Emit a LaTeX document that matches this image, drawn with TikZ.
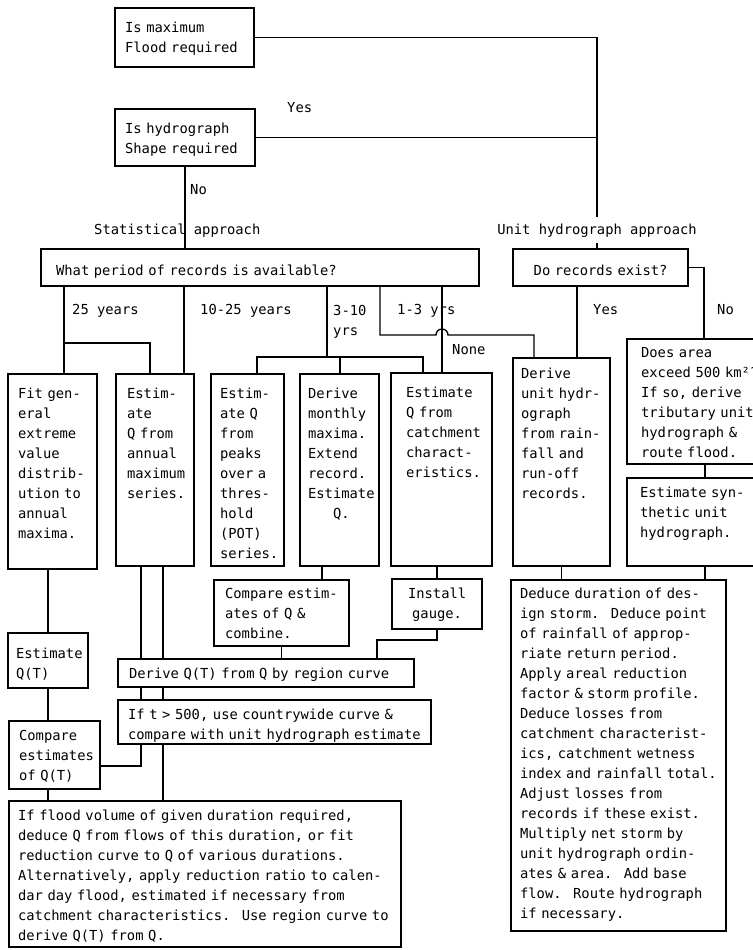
\documentclass[tikz,border=0pt]{standalone}
\usepackage{fontspec}
\setmainfont{DejaVu Sans Mono}

\begin{document}
\begin{tikzpicture}[x=1pt, y=-1pt, font=\fontsize{13.8}{20}\selectfont,
    box/.style={draw, line width=2.2pt, anchor=north west, inner xsep=10pt, inner ysep=0pt, align=left},
    link/.style={line width=1.3pt},
    lab/.style={inner sep=0pt, anchor=base west}]
    \useasboundingbox (0,0) rectangle (752,950);

      \node[box, text width=119pt, text height=24pt, text depth=35pt] (maxflood) at (114,7) {Is maximum\\Flood required};
      \node[box, text width=120pt, text height=24pt, text depth=33pt] (hydshape) at (114,108) {Is hydrograph\\Shape required};
      \node[box, inner xsep=15pt, text width=408pt, text height=26pt, text depth=11pt] (period) at (40,248) {What period of records is available?};
      \node[box, align=center, text width=155pt, text height=26pt, text depth=11pt] (exist) at (512,248) {Do records exist?};

      \node[box, text width=69pt, text height=24pt, text depth=171pt] (fitgev) at (7,373) {Fit gen-\\eral\\extreme\\value\\distrib-\\ution to\\annual\\maxima.};
      \node[box, inner xsep=11pt, text width=56pt, text height=24pt, text depth=168pt] (estannual) at (115,373) {Estim-\\ate\\Q from\\annual\\maximum\\series.};
      \node[box, inner xsep=9pt, text width=55pt, text height=24pt, text depth=168pt] (estpot) at (210,373) {Estim-\\ate Q\\from\\peaks\\over a\\thres-\\hold\\(POT)\\series.};
      \node[box, inner xsep=8pt, text width=63pt, text height=24pt, text depth=168pt] (monthly) at (299,373) {Derive\\monthly\\maxima.\\Extend\\record.\\Estimate\\\phantom{Est}Q.};
      \node[box, inner xsep=15pt, text width=71pt, text height=24pt, text depth=169pt] (catchq) at (390,372) {Estimate\\Q from\\catchment\\charact-\\eristics.};
      \node[box, inner xsep=8pt, text width=81pt, text height=20pt, text depth=188pt] (deriveuh) at (512,357) {Derive\\unit hydr-\\ograph\\from rain-\\fall and\\run-off\\records.};
      \node[box, inner xsep=14pt, text width=120pt, text height=18pt, text depth=107pt] (area) at (626,338) {Does area\\exceed 500 km²?\\If so, derive\\tributary unit\\hydrograph \&\\route flood.};
      \node[box, inner xsep=13pt, text width=108pt, text height=19pt, text depth=69pt] (synth) at (626,477) {Estimate syn-\\thetic unit\\hydrograph.};

      \node[box, inner xsep=11pt, text width=113pt, text height=18pt, text depth=48pt] (comparecomb) at (213,579) {Compare estim-\\ates of Q \&\\combine.};
      \node[box, align=center, text width=70pt, text height=19pt, text depth=31pt] (gauge) at (391,578) {Install\\gauge.};
      \node[box, inner xsep=8pt, text width=64pt, text height=25pt, text depth=30pt] (estqt) at (7,632) {Estimate\\Q(T)};
      \node[box, text width=71pt, text height=19pt, text depth=49pt] (compareqt) at (8,720) {Compare\\estimates\\of Q(T)};
      \node[box, inner xsep=11pt, text width=274pt, text height=19pt, text depth=9pt] (derivereg) at (117,658) {Derive Q(T) from Q by region curve};
      \node[box, text width=293pt, text height=19pt, text depth=25pt] (ift) at (117,699) {If t > 500, use countrywide curve \&\\compare with unit hydrograph estimate};
      \node[box, inner xsep=9pt, text width=374pt, text height=19pt, text depth=127pt] (final) at (8,800) {If flood volume of given duration required,\\deduce Q from flows of this duration, or fit\\reduction curve to Q of various durations.\\Alternatively, apply reduction ratio to calen-\\dar day flood, estimated if necessary from\\catchment characteristics.~ Use region curve to\\derive Q(T) from Q.};
      \node[box, inner xsep=9pt, text width=197pt, text height=18pt, text depth=333pt] (deduce) at (510,579) {Deduce duration of des-\\ign storm.~ Deduce point\\of rainfall of approp-\\riate return period.\\Apply areal reduction\\factor \& storm profile.\\Deduce losses from\\catchment characterist-\\ics, catchment wetness\\index and rainfall total.\\Adjust losses from\\records if these exist.\\Multiply net storm by\\unit hydrograph ordin-\\ates \& area.~ Add base\\flow.~ Route hydrograph\\if necessary.};

      \node[lab] (yestop) at (287,112) {Yes};
      \node[lab] (notop) at (190,194) {No};
      \node[lab] (statlab) at (94,234) {Statistical approach};
      \node[lab, anchor=base, inner sep=6pt] (uhlab) at (597,234) {Unit hydrograph approach};
      \node[lab] (lab25) at (72,314) {25 years};
      \node[lab] (lab1025) at (200,314) {10-25 years};
      \node[lab, anchor=north west, align=left] (lab310) at (333,305) {3-10\\yrs};
      \node[lab] (lab13) at (397,314) {1-3 yrs};
      \node[lab] (labnone) at (452,354) {None};
      \node[lab] (labyes) at (593,314) {Yes};
      \node[lab] (labno) at (717,314) {No};

      \coordinate (k25) at (64,343);
      \coordinate (k25b) at (150,343);
      \coordinate (k1025) at (184,0);
      \coordinate (k310) at (327,357);
      \coordinate (k310a) at (257,357);
      \coordinate (k310b) at (340,357);
      \coordinate (k310c) at (423,357);
      \coordinate (k13) at (380,335);
      \coordinate (k13b) at (534,335);
      \coordinate (knone) at (442,0);
      \coordinate (kyes) at (577,0);
      \coordinate (kno) at (704,0);
      \coordinate (ka) at (141,0);
      \coordinate (kb) at (163,0);
      \coordinate (kc) at (141,766);
      \coordinate (kd) at (322,0);
      \coordinate (ke) at (377,640);
      \coordinate (kf) at (705,0);

      \draw[link] (maxflood.east) -| (uhlab.north);
      \draw[link] (hydshape.east) -- (hydshape.east -| uhlab.north);
      \draw[link] (hydshape.south) -- (hydshape.south |- period.north);
      \draw[link] (uhlab.south) -- (uhlab.south |- exist.north);

      \draw[link] (period.south -| k25) -- (k25 |- fitgev.north);
      \draw[link] (k25) -- (k25b) -- (k25b |- estannual.north);
      \draw[link] (period.south -| k1025) -- (k1025 |- estannual.north);
      \draw[link] (period.south -| k310) -- (k310);
      \draw[link] (k310a |- estpot.north) -- (k310a) -- (k310c) -- (k310c |- catchq.north);
      \draw[link] (k310b) -- (k310b |- monthly.north);
      \draw[link] (period.south -| k13) -- (k13) -- (436,335) arc[start angle=180, end angle=0, radius=6pt] -- (k13b) -- (k13b |- deriveuh.north);
      \draw[link] (period.south -| knone) -- (knone |- catchq.north);
      \draw[link] (exist.south -| kyes) -- (kyes |- deriveuh.north);
      \draw[link] (exist.east) -| (kno |- area.north);

      \draw[link] (estqt.north |- fitgev.south) -- (estqt.north);
      \draw[link] (estqt.south) -- (estqt.south |- compareqt.north);
      \draw[link] (compareqt.south -| estqt.south) -- (estqt.south |- final.north);
      \draw[link] (estannual.south -| ka) -- (ka |- derivereg.north);
      \draw[link] (estannual.south -| kb) -- (kb |- derivereg.north);
      \draw[link] (derivereg.south -| ka) -- (ka |- ift.north);
      \draw[link] (derivereg.south -| kb) -- (kb |- ift.north);
      \draw[link] (ift.south -| kc) -- (kc) -- (kc -| compareqt.east);
      \draw[link] (ift.south -| kb) -- (kb |- final.north);
      \draw[link] (monthly.south -| kd) -- (kd |- comparecomb.north);
      \draw[link] (comparecomb.south) -- (comparecomb.south |- derivereg.north);
      \draw[link] (catchq.south -| gauge.north) -- (gauge.north);
      \draw[link] (gauge.south) |- (ke) -- (ke |- derivereg.north);
      \draw[link] (deriveuh.south) -- (deriveuh.south |- deduce.north);
      \draw[link] (area.south -| kf) -- (kf |- synth.north);
      \draw[link] (synth.south -| kf) -- (kf |- deduce.north);

\end{tikzpicture}
\end{document}
